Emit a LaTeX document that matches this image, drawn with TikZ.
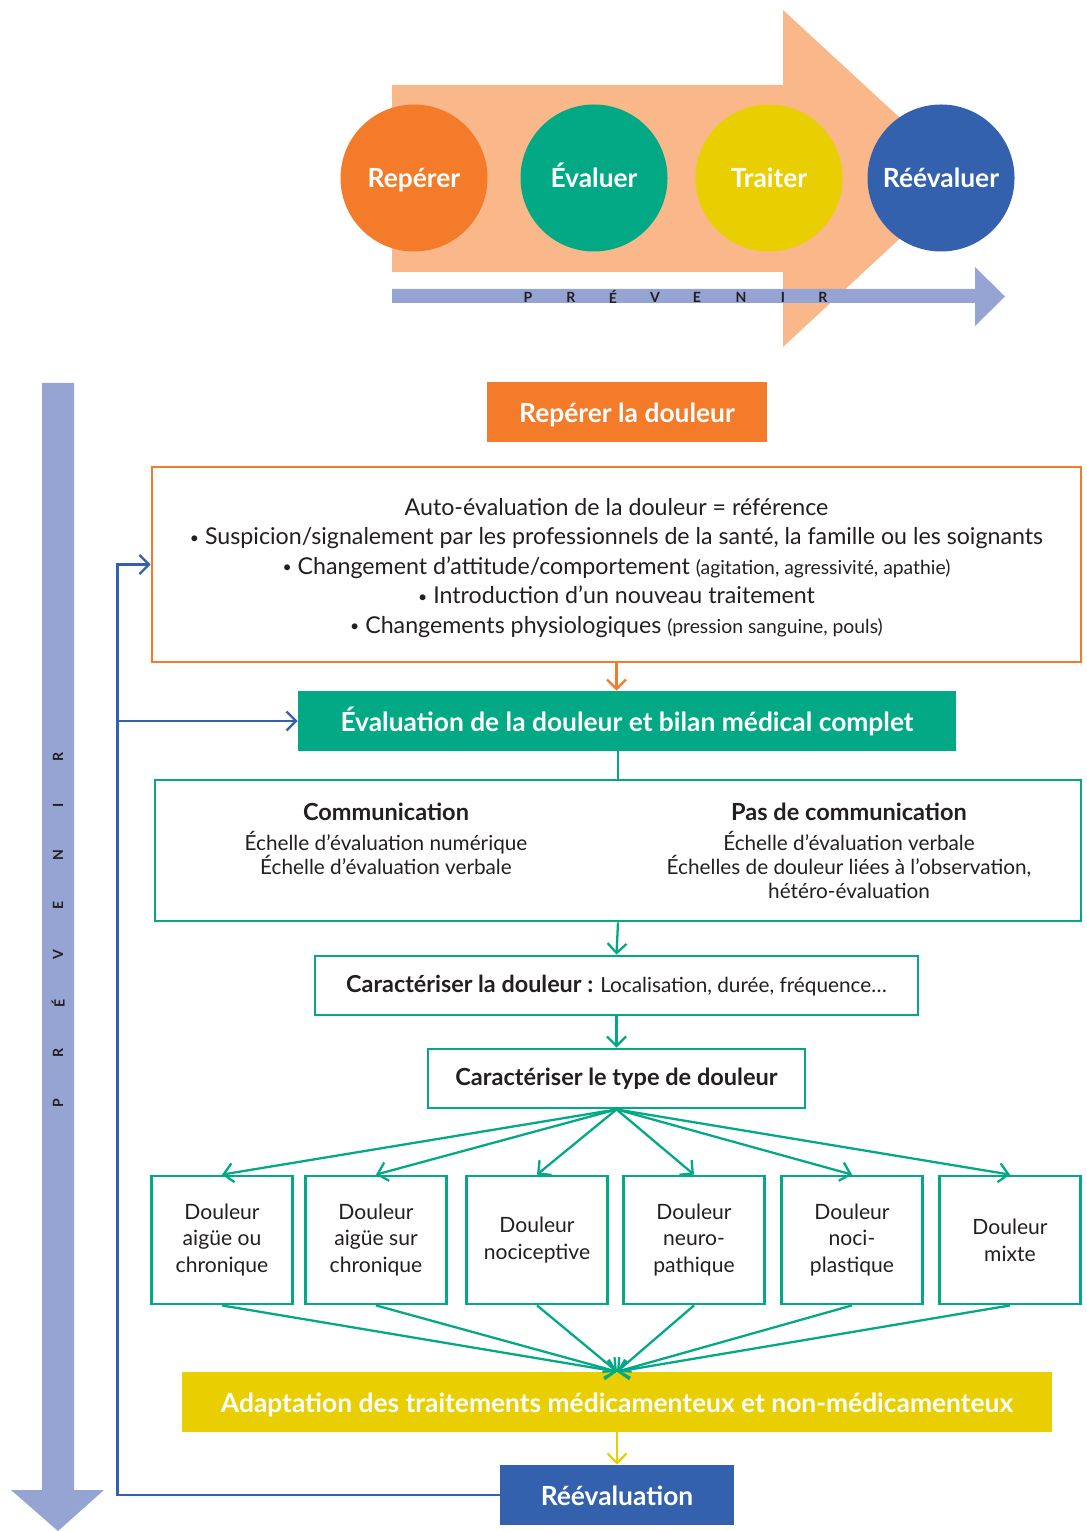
\documentclass[tikz,border=0pt]{standalone}
\usepackage{fontspec}
\setmainfont{Lato}
\usetikzlibrary{arrows.meta}

\definecolor{orangeR}{HTML}{F47B29}
\definecolor{vertE}{HTML}{03A985}
\definecolor{jauneT}{HTML}{E9CF02}
\definecolor{bleuR}{HTML}{3361AE}
\definecolor{peche}{HTML}{F9B78A}
\definecolor{lavande}{HTML}{96A4D3}
\definecolor{texte}{HTML}{231F20}

\newcommand{\puce}{\raisebox{0.15ex}{\fontsize{9}{9}\selectfont•}}

\tikzset{
  rond/.style={circle, minimum size=29.4mm, inner sep=0pt, text=white,
    text height=2.55ex, text depth=0.5ex, font=\fontsize{15}{18}\selectfont\bfseries},
  lettre/.style={inner sep=0pt, text=texte, font=\fontsize{8}{9}\selectfont\bfseries},
  titre/.style={inner sep=0pt, text=white, text height=14pt, text depth=2.5pt,
    font=\fontsize{15}{18}\selectfont\bfseries},
  cadre/.style={draw, line width=1.6pt, inner sep=0pt, align=center, text=texte,
    font=\fontsize{13.2}{16.8}\selectfont},
  typebox/.style={cadre, minimum width=28.2mm, minimum height=25.6mm,
    font=\fontsize{12}{15.3}\selectfont},
  fleche/.style={line width=1.3pt, -{Straight Barb[length=1.9mm,width=3.8mm]}},
}

\begin{document}
\begin{tikzpicture}[x=0.2mm, y=-0.2mm]
\useasboundingbox (0,0) rectangle (1086,1531);

% grande fleche
\fill[peche] (392,85) -- (783,85) -- (783,10) -- (965,178) -- (783,347)
  -- (783,272) -- (392,272) -- cycle;

% etapes
\node[rond, fill=orangeR] (etape1) at (414,178) {Repérer};
\node[rond, fill=vertE] (etape2) at (594,178) {Évaluer};
\node[rond, fill=jauneT] (etape3) at (769,178) {Traiter};
\node[rond, fill=bleuR] (etape4) at (941,178) {Réévaluer};

% prevenir, horizontal
\fill[lavande] (392,289) -- (975,289) -- (975,267) -- (1005,296.5) -- (975,326)
  -- (975,303) -- (392,303) -- cycle;
\node[lettre] (h1) at (528,297) {P};
\node[lettre] (h2) at (571,297) {R};
\node[lettre] (h3) at (613,297) {É};
\node[lettre] (h4) at (655,297) {V};
\node[lettre] (h5) at (697,297) {E};
\node[lettre] (h6) at (741,297) {N};
\node[lettre] (h7) at (783,297) {I};
\node[lettre] (h8) at (823,297) {R};

% prevenir, vertical
\fill[lavande] (42,383) -- (74,383) -- (74,1490) -- (104,1490) -- (58,1531)
  -- (11,1490) -- (42,1490) -- cycle;
\node[lettre, rotate=90] (v1) at (58,1103) {P};
\node[lettre, rotate=90] (v2) at (58,1053) {R};
\node[lettre, rotate=90] (v3) at (58,1003) {É};
\node[lettre, rotate=90] (v4) at (58,955) {V};
\node[lettre, rotate=90] (v5) at (58,905) {E};
\node[lettre, rotate=90] (v6) at (58,855) {N};
\node[lettre, rotate=90] (v7) at (58,805) {I};
\node[lettre, rotate=90] (v8) at (58,757) {R};

% boites
\node[titre, fill=orangeR, minimum width=56mm, minimum height=12mm] (reperer) at (627,412) {Repérer la douleur};

\node[cadre, draw=orangeR, minimum width=185.8mm, minimum height=39mm] (signes) at (616.5,564.5) {};
\node[align=center, inner sep=0pt, text=texte, font=\fontsize{13.2}{16.8}\selectfont] (signestxt) at (616.5,568)
  {Auto-évaluation de la douleur = référence\\
   \puce\ Suspicion/signalement par les professionnels de la santé, la famille ou les soignants\\
   \puce\ Changement d’attitude/comportement {\fontsize{11}{12}\selectfont(agitation, agressivité, apathie)}\\
   \puce\ Introduction d’un nouveau traitement\\
   \puce\ Changements physiologiques {\fontsize{11}{12}\selectfont(pression sanguine, pouls)}};

\node[titre, fill=vertE, minimum width=131.6mm, minimum height=12mm] (evaluation) at (627,721)
  {Évaluation de la douleur et bilan médical complet};

\node[cadre, draw=vertE, minimum width=185.2mm, minimum height=28.2mm] (echelles) at (618,850.5) {};
\node[align=center, anchor=north, inner sep=0pt, text=texte, font=\fontsize{11.8}{13.7}\selectfont] (comm) at (386,803)
  {{\fontsize{13.4}{15}\selectfont\bfseries Communication}\\[3pt]
   Échelle d’évaluation numérique\\
   Échelle d’évaluation verbale};
\node[align=center, anchor=north, inner sep=0pt, text=texte, font=\fontsize{11.8}{13.7}\selectfont] (nocomm) at (849,803)
  {{\fontsize{13.4}{15}\selectfont\bfseries Pas de communication}\\[3pt]
   Échelle d’évaluation verbale\\
   Échelles de douleur liées à l’observation,\\
   hétéro-évaluation};

\node[cadre, draw=vertE, minimum width=120.6mm, minimum height=11.8mm, font=\fontsize{11.8}{13}\selectfont] (caract) at (616.5,985.5)
  {{\fontsize{13.3}{15}\selectfont\bfseries Caractériser la douleur :} Localisation, durée, fréquence…};

\node[cadre, draw=vertE, minimum width=75.4mm, minimum height=11.8mm, font=\fontsize{13.4}{15}\selectfont\bfseries] (type) at (616.5,1078.5)
  {Caractériser le type de douleur};

\node[typebox, draw=vertE] (aigue) at (222,1240) {Douleur\\aigüe ou\\chronique};
\node[typebox, draw=vertE] (surchro) at (376,1240) {Douleur\\aigüe sur\\chronique};
\node[typebox, draw=vertE] (nocic) at (537,1240) {Douleur\\nociceptive};
\node[typebox, draw=vertE] (neuro) at (694,1240) {Douleur\\neuro-\\pathique};
\node[typebox, draw=vertE] (plast) at (852,1240) {Douleur\\noci-\\plastique};
\node[typebox, draw=vertE] (mixte) at (1010,1240) {Douleur\\mixte};

\node[titre, fill=jauneT, minimum width=174mm, minimum height=12mm] (adaptation) at (617,1402)
  {Adaptation des traitements médicamenteux et non-médicamenteux};

\node[titre, fill=bleuR, minimum width=46.8mm, minimum height=12mm] (reeval) at (617,1495) {Réévaluation};

% fleches
\draw[fleche, orangeR] (signes.south) -- (signes.south |- evaluation.north);
\draw[line width=1.3pt, vertE] (echelles.north |- evaluation.south) -- (echelles.north);
\draw[fleche, vertE] (echelles.south) -- (caract.north);
\draw[fleche, vertE] (caract.south) -- (type.north);

\draw[fleche, vertE] (type.south) -- (aigue.north);
\draw[fleche, vertE] (type.south) -- (surchro.north);
\draw[fleche, vertE] (type.south) -- (nocic.north);
\draw[fleche, vertE] (type.south) -- (neuro.north);
\draw[fleche, vertE] (type.south) -- (plast.north);
\draw[fleche, vertE] (type.south) -- (mixte.north);

\draw[fleche, vertE] (aigue.south) -- (adaptation.north);
\draw[fleche, vertE] (surchro.south) -- (adaptation.north);
\draw[fleche, vertE] (nocic.south) -- (adaptation.north);
\draw[fleche, vertE] (neuro.south) -- (adaptation.north);
\draw[fleche, vertE] (plast.south) -- (adaptation.north);
\draw[fleche, vertE] (mixte.south) -- (adaptation.north);

\draw[fleche, jauneT] (adaptation.south) -- (reeval.north);

% retour
\coordinate (retour) at ([xshift=-6.6mm]signes.west);
\draw[fleche, bleuR] (reeval.west) -| (retour) -- (signes.west);
\draw[fleche, bleuR] (evaluation.west -| retour) -- (evaluation.west);

\end{tikzpicture}
\end{document}
